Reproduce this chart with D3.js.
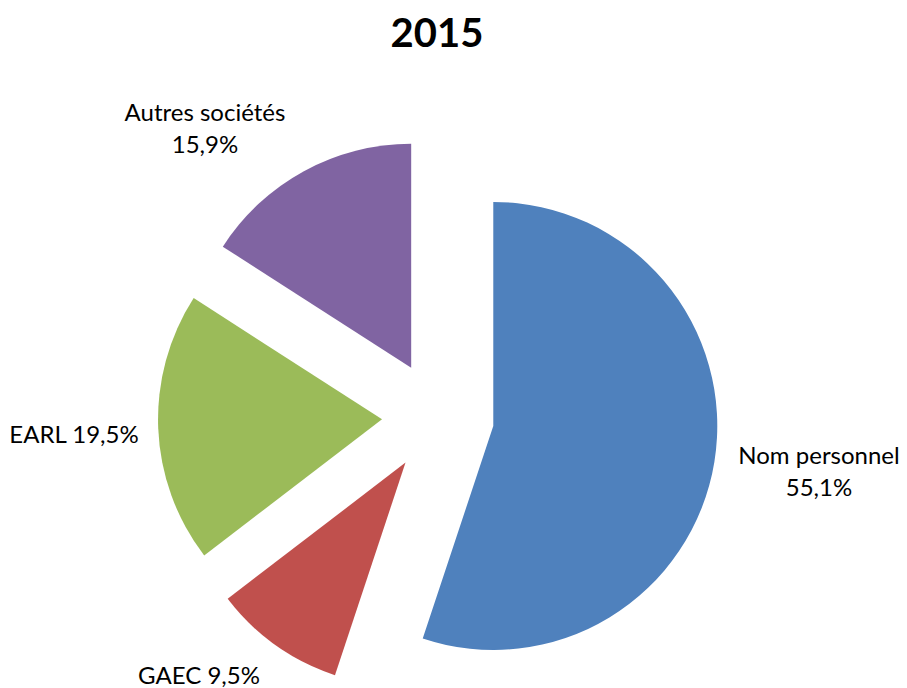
<!DOCTYPE html>
<html>
<head>
<meta charset="utf-8">
<script src="https://cdn.jsdelivr.net/npm/d3@7"></script>
<style>
  body { margin: 0; background: #fff; }
  svg { display: block; }
  text { font-family: Lato, "Open Sans", sans-serif; fill: #000; }
</style>
</head>
<body>
<svg id="chart" width="907" height="688"></svg>
<script>
const title = "2015";
const categories = ["Nom personnel", "GAEC", "EARL", "Autres sociétés"];
const values = [55.1, 9.5, 19.5, 15.9];
const valueLabels = ["55,1%", "9,5%", "19,5%", "15,9%"];
const colors = ["#4F81BD", "#C0504D", "#9BBB59", "#8064A2"];

const svg = d3.select("#chart");
const cx = 438, cy = 417, R = 224, explode = 56;

svg.append("text")
  .attr("x", 437).attr("y", 47)
  .attr("text-anchor", "middle")
  .style("font-weight", "bold")
  .style("font-size", "40px")
  .text(title);

const pie = d3.pie().sort(null).value(d => d.v).startAngle(0).endAngle(2 * Math.PI);
const data = categories.map((c, i) => ({ c, v: values[i], lab: valueLabels[i], col: colors[i] }));
const arcs = pie(data);
const arc = d3.arc().innerRadius(0).outerRadius(R);

const g = svg.append("g").attr("transform", `translate(${cx},${cy})`);
g.selectAll("path").data(arcs).enter().append("path")
  .attr("d", arc)
  .attr("fill", d => d.data.col)
  .attr("transform", d => {
    const a = (d.startAngle + d.endAngle) / 2;
    return `translate(${explode * Math.sin(a)},${-explode * Math.cos(a)})`;
  });

const labelPos = [
  { x: 819, y: [464, 496], lines: d => [d.c, d.lab] },
  { x: 199, y: [684], lines: d => [d.c + " " + d.lab] },
  { x: 74, y: [443], lines: d => [d.c + " " + d.lab] },
  { x: 205, y: [121, 153], lines: d => [d.c, d.lab] }
];
data.forEach((d, i) => {
  const p = labelPos[i];
  p.lines(d).forEach((t, j) => {
    svg.append("text")
      .attr("x", p.x).attr("y", p.y[j])
      .attr("text-anchor", "middle")
      .style("font-size", "24px")
      .text(t);
  });
});
</script>
</body>
</html>
